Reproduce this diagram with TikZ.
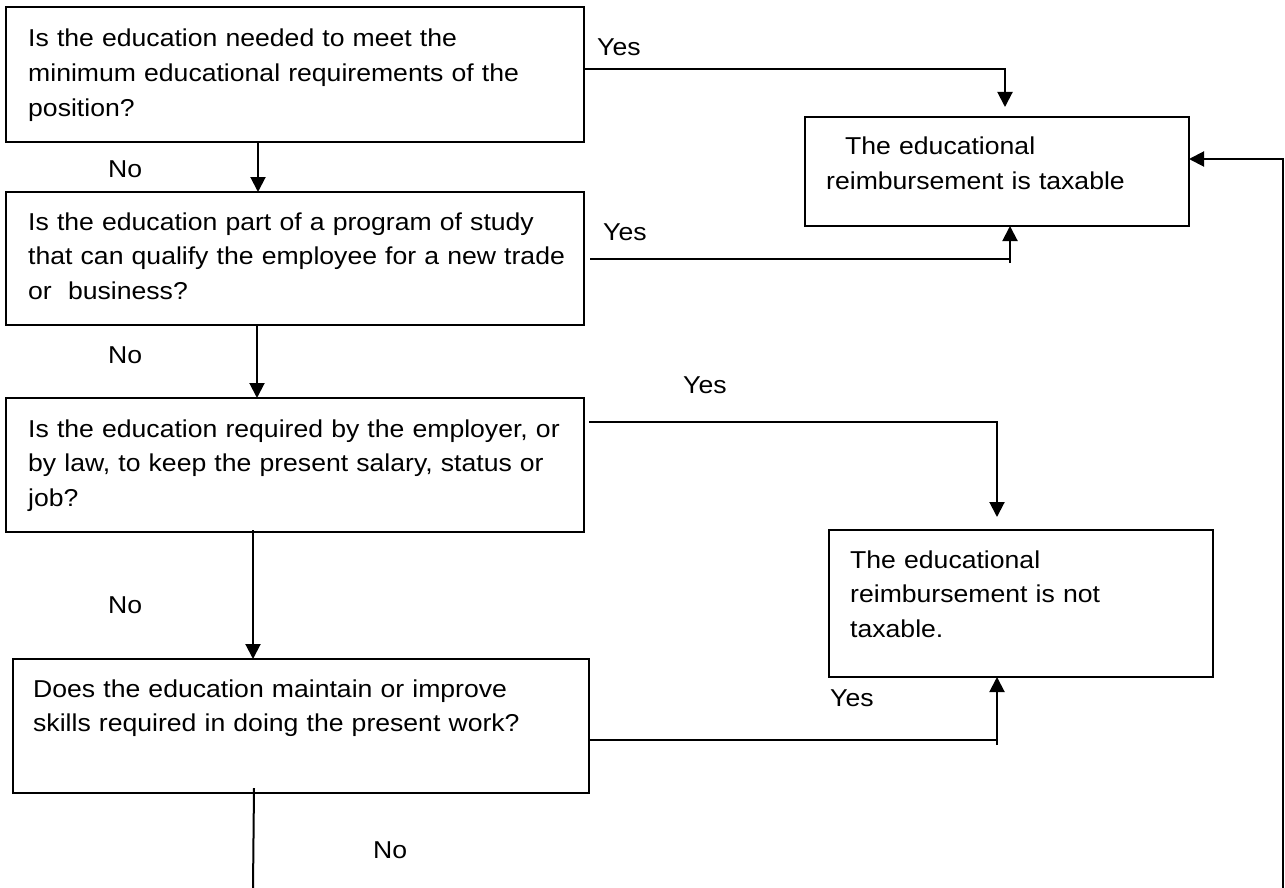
\documentclass[tikz,border=0pt]{standalone}
\usepackage{fontspec}
\setmainfont{Liberation Sans}[FakeStretch=1.09]
\usetikzlibrary{arrows.meta,calc}
\begin{document}
\begin{tikzpicture}[x=1pt,y=-1pt,
  box/.style={draw,line width=2pt,inner sep=0pt,outer sep=0pt,anchor=north west},
  txt/.style={anchor=base west,inner sep=0pt,align=left,font=\fontsize{24.4pt}{34.7pt}\selectfont},
  lbl/.style={anchor=base west,inner sep=0pt,font=\fontsize{24.4pt}{34.7pt}\selectfont},
  conn/.style={line width=2pt},
  arr/.style={conn,-{Triangle[length=15pt,width=15pt]}}]
\path[fill=white,use as bounding box] (0,0) rectangle (1285,888);
% boxes
\node[box,minimum width=578pt,minimum height=135pt] (q1) at (6,7) {};
\node[box,minimum width=578pt,minimum height=133pt] (q2) at (6,192) {};
\node[box,minimum width=578pt,minimum height=134pt] (q3) at (6,398) {};
\node[box,minimum width=576pt,minimum height=134pt] (q4) at (13,659) {};
\node[box,minimum width=384pt,minimum height=109pt] (tax) at (805,117) {};
\node[box,minimum width=384pt,minimum height=147pt] (nt) at (829,530) {};
% texts
\node[txt,text width=550pt] (t1) at (28,47) {Is the education needed to meet the\\minimum educational requirements of the\\position?};
\node[txt,text width=550pt] (t2) at (28,230) {Is the education part of a program of study\\that can qualify the employee for a new trade\\or\ \ business?};
\node[txt,text width=550pt] (t3) at (28,437) {Is the education required by the employer, or\\by law, to keep the present salary, status or\\job?};
\node[txt,text width=550pt] (t4) at (33,697) {Does the education maintain or improve\\skills required in doing the present work?};
\node[txt,text width=360pt] (ttax) at (826,155) {\hspace*{19pt}The educational\\reimbursement is taxable};
\node[txt,text width=360pt] (tnt) at (850,568) {The educational\\reimbursement is not\\taxable.};
% labels
\node[lbl] (yes1) at (597,56) {Yes};
\node[lbl] (no1) at (108,178) {No};
\node[lbl] (yes2) at (603,240) {Yes};
\node[lbl] (no2) at (108,363) {No};
\node[lbl] (yes3) at (683,393) {Yes};
\node[lbl] (no3) at (108,613) {No};
\node[lbl] (yes4) at (830,706) {Yes};
\node[lbl] (no4) at (373,858) {No};
% junction coordinates
\coordinate (j1) at (1005,69);
\coordinate (j2) at (1010,259);
\coordinate (j3) at (997,422);
\coordinate (j4) at (997,740);
\coordinate (f0) at (1283,888);
\coordinate (f1) at (1283,159);
\coordinate (d1) at (258,0);
\coordinate (d2) at (257,0);
\coordinate (d3) at (253,0);
\coordinate (d4) at (254,0);
\coordinate (e4) at (253,888);
% yes connectors
\draw[arr] (q1.east |- j1) -- (j1) -- ($(tax.north -| j1)+(0,-10)$);
\draw[conn] ($(q2.east |- j2)+(6,0)$) -- (j2);
\draw[arr] ($(j2)+(0,4)$) -- (tax.south -| j2);
\draw[arr] ($(q3.east |- j3)+(5,0)$) -- (j3) -- ($(nt.north -| j3)+(0,-13)$);
\draw[conn] (q4.east |- j4) -- (j4);
\draw[arr] ($(j4)+(0,5)$) -- (nt.south -| j4);
\draw[arr] (f0) -- (f1) -- (tax.east |- f1);
% no connectors
\draw[arr] (q1.south -| d1) -- (q2.north -| d1);
\draw[arr] (q2.south -| d2) -- (q3.north -| d2);
\draw[arr] ($(q3.south -| d3)+(0,-2)$) -- (q4.north -| d3);
\draw[conn] ($(q4.south -| d4)+(0,-5)$) -- (e4);
\end{tikzpicture}
\end{document}
